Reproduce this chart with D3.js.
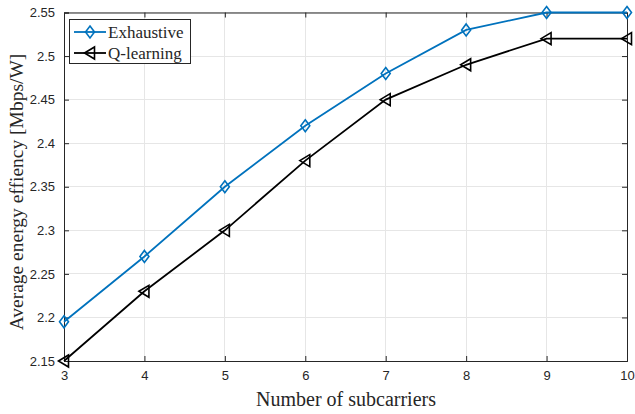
<!DOCTYPE html>
<html>
<head>
<meta charset="utf-8">
<script src="https://cdn.jsdelivr.net/npm/d3@7"></script>
<style>
  html, body { margin: 0; padding: 0; background: #fff; }
  svg { display: block; }
</style>
</head>
<body>
<svg id="chart" width="635" height="414"></svg>
<script>
// Number of subcarriers
const subcarriers = [3, 4, 5, 6, 7, 8, 9, 10];
// Average energy efficiency [Mbps/W]
const exhaustive = [2.195, 2.27, 2.35, 2.42, 2.48, 2.53, 2.55, 2.55];
const qLearning  = [2.15, 2.23, 2.30, 2.38, 2.45, 2.49, 2.52, 2.52];
const yTicks = [2.15, 2.2, 2.25, 2.3, 2.35, 2.4, 2.45, 2.5, 2.55];
const xTicks = [3, 4, 5, 6, 7, 8, 9, 10];
const seriesNames = ["Exhaustive", "Q-learning"];

const svg = d3.select("#chart");
const L = 64, R = 627, T = 12.5, B = 361;

const x = d3.scaleLinear().domain([3, 10]).range([L, R]);
const y = d3.scaleLinear().domain([2.15, 2.55]).range([B, T]);

const axisColor = "#262626";
const tickFont = "'Liberation Sans', Arial, sans-serif";
const serif = "'Liberation Serif', 'Times New Roman', serif";

// grid
const grid = svg.append("g");
grid.selectAll(".gx").data(xTicks).join("line")
  .attr("x1", d => x(d)).attr("x2", d => x(d)).attr("y1", T).attr("y2", B)
  .attr("stroke", "#e6e6e6").attr("stroke-width", 1).attr("shape-rendering", "crispEdges");
grid.selectAll(".gy").data(yTicks).join("line")
  .attr("x1", L).attr("x2", R).attr("y1", d => y(d)).attr("y2", d => y(d))
  .attr("stroke", "#e6e6e6").attr("stroke-width", 1).attr("shape-rendering", "crispEdges");

// axes
const xAxis = d3.axisBottom(x).tickValues(xTicks).tickSize(-5).tickPadding(10).tickFormat(d3.format("d"));
const yAxis = d3.axisLeft(y).tickValues(yTicks).tickSize(-5).tickPadding(9).tickFormat(d => String(+d.toFixed(2)));
const gx = svg.append("g").attr("transform", `translate(0,${B})`).call(xAxis);
const gy = svg.append("g").attr("transform", `translate(${L},0)`).call(yAxis);
// mirrored ticks on top/right
const gx2 = svg.append("g").attr("transform", `translate(0,${T})`).call(d3.axisTop(x).tickValues(xTicks).tickSize(-5).tickFormat(""));
const gy2 = svg.append("g").attr("transform", `translate(${R},0)`).call(d3.axisRight(y).tickValues(yTicks).tickSize(-5).tickFormat(""));
[gx, gy, gx2, gy2].forEach(g => {
  g.selectAll("path").attr("stroke", axisColor).attr("stroke-width", 1);
  g.selectAll("line").attr("stroke", axisColor).attr("stroke-width", 1);
  g.selectAll("text").attr("fill", axisColor).attr("font-family", tickFont).attr("font-size", 13);
});

// axis labels
svg.append("text").attr("x", (L + R) / 2 + 0.5).attr("y", 406).attr("text-anchor", "middle")
  .attr("font-family", serif).attr("font-size", 20).attr("fill", axisColor).text("Number of subcarriers");
svg.append("text").attr("transform", `translate(23,192) rotate(-90)`).attr("text-anchor", "middle")
  .attr("font-family", serif).attr("font-size", 19.5).attr("fill", axisColor).text("Average energy effiency [Mbps/W]");

const blue = "#0072BD", black = "#000000";
const line = vals => d3.line().x((d, i) => x(subcarriers[i])).y(d => y(d))(vals);

function diamond(g, cx, cy) {
  g.append("path").attr("d", `M${cx},${cy - 6}L${cx + 4.5},${cy}L${cx},${cy + 6}L${cx - 4.5},${cy}Z`)
    .attr("fill", "none").attr("stroke", blue).attr("stroke-width", 1.6);
}
function triLeft(g, cx, cy) {
  g.append("path").attr("d", `M${cx - 5.5},${cy}L${cx + 4.5},${cy - 6}L${cx + 4.5},${cy + 6}Z`)
    .attr("fill", "none").attr("stroke", black).attr("stroke-width", 1.6);
}

const plot = svg.append("g");
plot.append("path").attr("d", line(exhaustive)).attr("fill", "none").attr("stroke", blue).attr("stroke-width", 1.8);
plot.append("path").attr("d", line(qLearning)).attr("fill", "none").attr("stroke", black).attr("stroke-width", 1.8);
exhaustive.forEach((v, i) => diamond(plot, x(subcarriers[i]), y(v)));
qLearning.forEach((v, i) => triLeft(plot, x(subcarriers[i]), y(v)));

// legend
const lg = svg.append("g");
lg.append("rect").attr("x", 69.5).attr("y", 19.5).attr("width", 121).attr("height", 44)
  .attr("fill", "#fff").attr("stroke", axisColor).attr("stroke-width", 1);
const rows = [{ name: seriesNames[0], color: blue, mk: diamond, yy: 32 }, { name: seriesNames[1], color: black, mk: triLeft, yy: 53 }];
rows.forEach(r => {
  lg.append("line").attr("x1", 74).attr("x2", 106).attr("y1", r.yy).attr("y2", r.yy)
    .attr("stroke", r.color).attr("stroke-width", 1.8);
  r.mk(lg, 90, r.yy);
  lg.append("text").attr("x", 108).attr("y", r.yy + 5.5).attr("font-family", serif).attr("font-size", 17)
    .attr("fill", axisColor).text(r.name);
});
</script>
</body>
</html>
